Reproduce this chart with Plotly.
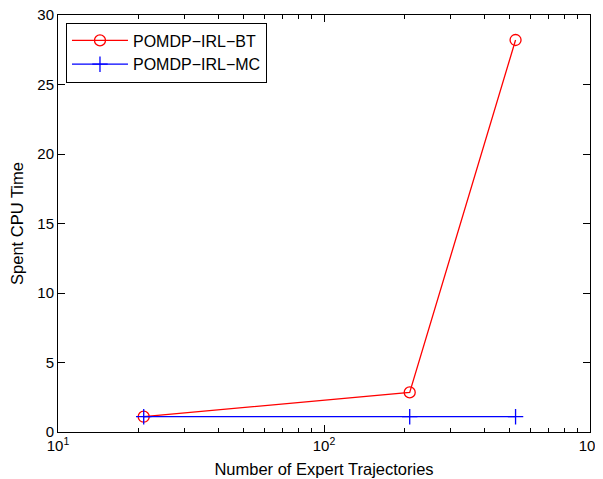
import plotly.graph_objects as go

trajectories = [21, 210, 525]
bt_time = [1.1, 2.85, 28.2]
mc_time = [1.1, 1.1, 1.1]
x_ticks = [10, 100, 1000]
x_ticktext = ["10<sup>1</sup>", "10<sup>2</sup>", "10<sup>3</sup>"]
x_minor = [20, 30, 40, 50, 60, 70, 80, 90, 200, 300, 400, 500, 600, 700, 800, 900]
y_ticks = [0, 5, 10, 15, 20, 25, 30]

fig = go.Figure()
fig.add_trace(go.Scatter(x=trajectories, y=bt_time, mode="lines+markers", name="POMDP\u2212IRL\u2212BT",
                         line=dict(color="#ff0000", width=1.3),
                         marker=dict(symbol="circle-open", size=11, color="#ff0000", line=dict(width=1.3))))
fig.add_trace(go.Scatter(x=trajectories, y=mc_time, mode="lines+markers", name="POMDP\u2212IRL\u2212MC",
                         line=dict(color="#0000ff", width=1.3),
                         marker=dict(symbol="cross-thin-open", size=11, color="#0000ff", line=dict(width=1.3))))

font = dict(family="Liberation Sans, Arial, sans-serif", size=15, color="black")
fig.update_layout(
    width=603, height=479,
    margin=dict(l=50, r=21, t=7, b=55),
    plot_bgcolor="white", paper_bgcolor="white",
    font=font,
    showlegend=True,
    legend=dict(x=0.015, y=0.982, xanchor="left", yanchor="top",
                bordercolor="black", borderwidth=1, bgcolor="white",
                font=dict(family="Liberation Sans, Arial, sans-serif", size=16),
                tracegroupgap=0, itemwidth=56),
    xaxis=dict(type="log", range=[1, 3], tickvals=x_ticks, ticktext=x_ticktext,
               ticks="inside", ticklen=7, tickcolor="black", showline=True, linecolor="black",
               linewidth=1, mirror="allticks", showgrid=False, zeroline=False, automargin=False,
               ticklabeloverflow="allow",
               minor=dict(tickvals=x_minor, ticks="inside", ticklen=4, tickcolor="black", showgrid=False),
               title=dict(text="Number of Expert Trajectories", font=dict(size=16.5), standoff=10),
               tickfont=dict(size=15)),
    yaxis=dict(range=[0, 30], tickvals=y_ticks, ticks="inside", ticklen=7, tickcolor="black",
               showline=True, linecolor="black", linewidth=1, mirror="allticks",
               showgrid=False, zeroline=False, automargin=False,
               ticklabeloverflow="allow",
               title=dict(text="Spent CPU Time", font=dict(size=16.5), standoff=12),
               tickfont=dict(size=15)),
)
fig.write_html("out.html")
